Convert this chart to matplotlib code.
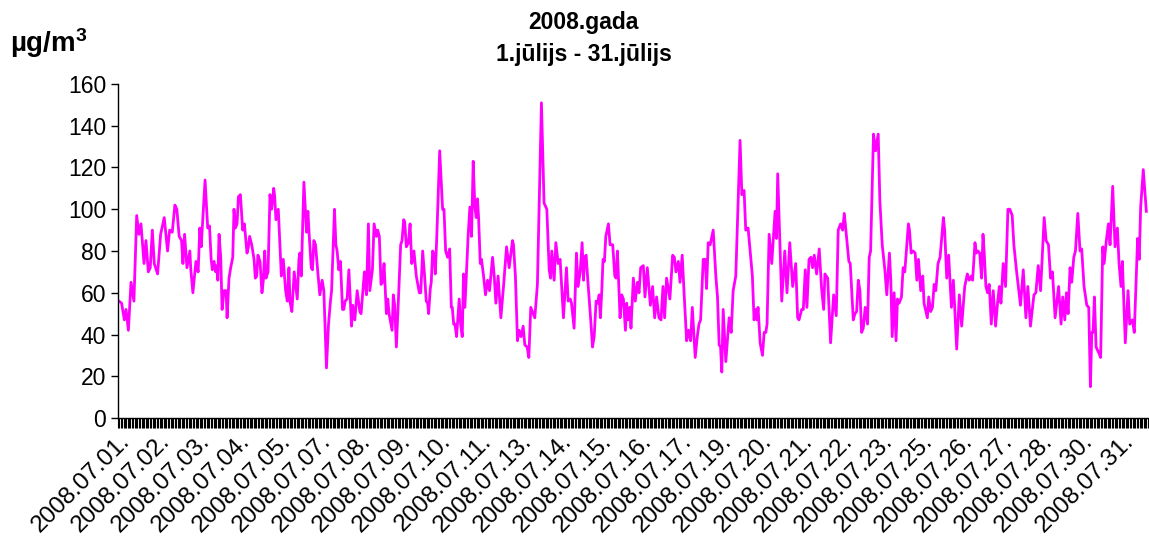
import numpy as np
import matplotlib
matplotlib.use("Agg")
import matplotlib.pyplot as plt

plt.rcParams['font.family'] = ['Liberation Sans', 'DejaVu Sans']
plt.rcParams['mathtext.fontset'] = 'custom'
plt.rcParams['mathtext.rm'] = 'Liberation Sans'
plt.rcParams['mathtext.bf'] = 'Liberation Sans:bold'

# hourly series, July 2008 (744 hours) - read as vertices (hour index, value)
hours = [
    0.2, 2.1, 4.1, 5.3, 7.0, 8.9, 11.0, 13.0, 14.6, 16.1, 18.3, 19.7, 21.4, 22.8, 24.3, 25.7,
    28.1, 30.3, 32.9, 35.3, 36.8, 38.7, 40.6, 42.0, 43.7, 45.4, 46.4, 47.6, 49.3, 51.4, 52.1,
    53.6, 55.8, 57.4, 58.6, 59.6,
    62.4, 64.3, 65.6, 66.8, 67.7, 68.9, 70.1, 71.1, 71.6, 72.5, 73.7, 74.7, 76.1, 77.6, 78.3,
    79.7, 80.9, 82.4, 83.3, 84.3, 85.5, 86.5, 87.9, 89.6, 90.8, 92.7, 93.7, 94.6, 96.1, 97.8,
    98.7, 99.7, 100.6, 102.1, 103.5, 104.5, 105.5, 106.4, 107.9, 109.3, 110.5, 112.0, 112.7,
    113.6, 115.3, 117.5, 118.9, 120.6, 121.8,
    123.0, 123.7, 125.1, 126.8, 129.0, 130.2, 130.9, 131.9, 133.8, 135.7, 136.7, 137.6, 139.1,
    140.0, 141.0, 142.2, 143.7, 145.3, 147.0, 148.2, 150.1, 151.6, 153.0, 153.8, 155.9, 156.9,
    157.8, 159.0, 160.2, 161.7, 162.6, 163.6, 165.0, 166.3, 168.2, 169.1, 170.6, 172.3, 174.2,
    175.1, 177.5, 179.0, 180.4, 181.4,
    183.3, 184.5, 186.2, 187.1, 188.3, 189.5, 190.5, 191.7, 193.4, 194.4, 195.3, 197.5, 198.4,
    199.4, 200.6, 202.3, 203.7, 204.7, 205.9, 206.6, 207.8, 209.3, 210.5, 211.7, 213.3, 215.0,
    217.2, 218.2, 219.6, 221.0, 222.2, 223.2, 223.9, 225.1, 225.8, 226.8, 228.0, 228.7, 229.7,
    231.9, 233.1, 234.0, 235.0, 236.2, 237.6, 239.1, 240.3, 241.0, 242.0, 242.9, 244.1, 246.0,
    247.0, 248.2, 249.1, 250.1, 251.3, 252.5, 253.7, 254.9, 256.1, 257.3, 258.3, 259.2, 260.0,
    261.2, 262.1, 263.6, 265.0, 266.5, 267.9, 270.1, 271.3, 272.5, 274.1, 276.1, 278.0, 280.2,
    282.1, 284.5, 285.2, 286.6, 288.1, 289.3, 290.7, 292.2, 293.4, 295.1, 296.3, 297.7, 300.6,
    302.5, 305.4, 307.3,
    309.3, 311.0, 312.0, 312.9, 314.6, 315.8, 317.5, 318.9, 321.3, 323.5, 324.7, 326.2, 327.1,
    329.0, 330.7, 331.9, 333.4, 334.8, 335.8, 336.7, 337.7, 338.9, 341.0, 342.3, 343.5, 344.9,
    346.1, 347.1, 348.0, 349.0, 349.9, 350.9, 351.9, 353.8, 355.0, 356.9, 358.4, 359.3, 360.3,
    362.2, 363.4, 364.6, 366.1, 367.0, 368.0, 369.2, 370.1,
    371.8, 373.2, 374.7, 375.9, 377.1, 379.0, 380.2, 381.9, 384.1, 385.7, 387.2, 388.6, 390.3,
    391.8, 393.2, 394.4, 395.8, 398.2, 400.2, 401.4, 402.6, 404.3, 405.5, 407.1, 408.6, 410.3,
    411.7, 413.2, 414.4, 416.5, 418.0, 419.2, 420.4, 422.3, 423.7, 424.7, 425.9, 427.3, 429.5,
    431.4,
    432.6, 433.8, 434.8, 435.7, 436.7, 438.6, 441.0, 442.5, 443.9, 445.8, 448.9, 450.2, 451.8,
    453.0, 454.7, 457.8, 459.0, 460.2, 461.0, 461.9, 463.4, 465.1, 466.3, 467.5, 468.4, 469.9,
    471.8, 474.2, 475.2, 476.1, 477.6, 479.0, 481.2, 482.8, 484.8, 486.9, 489.1, 490.5, 491.5,
    493.4,
    494.6, 496.0, 497.2, 498.7, 500.1, 501.3, 502.5, 504.2, 506.1, 507.8, 509.3, 510.2, 512.2,
    514.3, 516.5, 518.4, 519.8, 521.5, 523.0, 524.2, 525.9, 527.5, 528.5, 530.7, 531.9, 533.1,
    534.3, 535.5, 536.7, 537.9, 539.3, 541.0, 542.2, 543.2, 545.3, 546.8, 548.7, 549.9, 551.6,
    553.5, 554.9,
    556.8, 557.8, 558.8, 560.2, 561.6, 562.6, 563.8, 565.5, 566.7, 567.9, 570.5, 571.3, 572.5,
    573.9, 575.4, 576.6, 577.8, 579.4, 580.9, 581.8, 584.2, 585.2, 586.6, 587.9, 589.1, 590.3,
    591.9, 593.4, 595.8, 596.7, 598.2, 599.6, 601.6, 603.0, 605.4, 607.3, 609.0, 611.2, 613.1,
    614.5, 616.0, 616.9,
    618.6, 619.6, 620.8, 622.0, 623.4, 624.4, 625.3, 626.5, 627.7, 628.9, 630.4, 631.8, 633.5,
    634.9, 636.2, 637.4, 639.0, 640.7, 642.4, 643.8, 645.5, 646.7, 648.7, 651.5, 653.5, 655.4,
    656.8, 658.7, 661.2, 662.6, 664.3, 666.0, 668.6, 670.0, 671.7, 673.2, 674.6, 676.5, 679.0,
    680.8, 682.0, 683.5, 684.7, 685.9, 687.3, 688.5, 690.0, 691.2, 692.9, 694.5, 695.7, 697.4,
    699.4, 700.8, 702.0, 703.0, 703.9, 704.9, 706.1, 708.2, 709.4, 710.9, 711.9, 713.5, 715.0,
    716.2, 718.1, 719.8, 721.5, 722.7, 724.1, 725.1, 727.2, 729.2, 730.4, 732.3, 733.7, 736.1,
    737.3, 738.3, 740.2, 742.4,
]
conc = [
    56, 55, 47, 52, 42, 65, 56, 97, 88, 93, 74, 85, 70, 72, 90, 74,
    69, 88, 96, 80, 90, 89, 102, 100, 87, 85, 74, 88, 72, 80, 71,
    60, 75, 70, 91, 82,
    114, 91, 92, 76, 71, 75, 70, 73, 66, 88, 77, 52, 61, 61, 48,
    67, 72, 77, 100, 91, 93, 106, 107, 90, 93, 79, 82, 87, 83, 76,
    67, 68, 78, 75, 60, 66, 80, 67, 70, 107, 100, 110, 106,
    95, 100, 68, 76, 61, 56,
    72, 56, 51, 70, 57, 76, 79, 68, 113, 89, 99, 88, 72,
    71, 85, 83, 71, 59, 66, 61, 24, 45, 56, 61, 100, 83,
    80, 71, 75, 52, 52, 56, 57, 71, 44, 54, 47, 61, 51,
    50, 70, 59, 93, 61,
    71, 93, 87, 90, 87, 64, 65, 74, 50, 57, 50, 42, 59,
    54, 34, 60, 83, 85, 95, 94, 82, 84, 93, 74, 80, 68,
    60, 60, 80, 68, 56, 55, 50, 62, 65, 80, 78, 69, 85,
    128, 112, 100, 100, 80, 77, 81, 53, 53, 45, 45, 39, 57,
    45, 39, 69, 53, 71, 88, 101, 87, 123, 101, 96, 105, 96,
    74, 76, 68, 59, 66, 61, 77, 68, 55, 68, 48, 63, 82,
    72, 85, 83, 68, 37, 42, 39, 44, 35, 34, 29, 53, 48,
    64, 151, 103,
    100, 71, 67, 80, 66, 84, 74, 76, 48, 72, 56, 57, 55,
    43, 79, 63, 70, 84, 66, 77, 78, 66, 47, 34, 39, 56,
    55, 59, 48, 61, 76, 75, 87, 93, 83, 83, 68, 67, 80,
    48, 59, 57, 42, 55, 47, 53, 43,
    67, 56, 65, 60, 72, 73, 58, 72, 54, 63, 48, 58, 48,
    47, 63, 48, 67, 57, 78, 77, 70, 75, 65, 78, 58, 37,
    42, 37, 53, 29, 39, 45, 47, 76, 76, 62, 84, 83, 90,
    68,
    58, 35, 34, 22, 52, 27, 48, 41, 61, 68, 133, 107, 109,
    90, 91, 68, 47, 52, 47, 53, 36, 30, 41, 41, 45, 88,
    74, 99, 86, 117, 86, 56, 80, 60, 84, 63, 74, 48, 47,
    52,
    52, 71, 53, 76, 77, 72, 78, 69, 81, 62, 52, 69, 67,
    36, 59, 49, 90, 93, 90, 98, 86, 75, 74, 47, 50, 51,
    66, 61, 41, 43, 53, 45, 77, 80, 136, 128, 136, 104, 83,
    71, 59,
    79, 66, 39, 60, 37, 57, 55, 58, 72, 70, 93, 90, 79,
    80, 79, 66, 76, 61, 68, 55, 48, 58, 51, 53, 64, 61,
    74, 77, 96, 90, 67, 78, 53, 66, 33, 59, 44, 63, 69,
    66, 68, 66,
    84, 79, 80, 79, 67, 88, 79, 63, 60, 64, 45, 61, 44,
    55, 63, 55, 74, 63, 100, 100, 97, 83, 70, 54, 71, 48,
    63, 44, 59, 60, 73, 61, 96, 85, 83, 67, 70, 48, 63,
    45, 58, 47, 60, 50, 72, 65, 77, 80, 98, 80, 81, 63,
    54, 53, 15, 41, 41, 58, 34, 31, 29, 82, 74, 85, 93,
    83, 111, 82, 91, 74, 63, 75, 36, 61, 45, 47, 41, 86,
    76, 101, 119, 99,
]

n_hours = 744
label_pos = list(range(0, n_hours, 29))
tick_labels = [
    '2008.07.01.', '2008.07.02.', '2008.07.03.', '2008.07.04.', '2008.07.05.',
    '2008.07.07.', '2008.07.08.', '2008.07.09.', '2008.07.10.', '2008.07.11.',
    '2008.07.13.', '2008.07.14.', '2008.07.15.', '2008.07.16.', '2008.07.17.',
    '2008.07.19.', '2008.07.20.', '2008.07.21.', '2008.07.22.', '2008.07.23.',
    '2008.07.25.', '2008.07.26.', '2008.07.27.', '2008.07.28.', '2008.07.30.',
    '2008.07.31.',
]

fig = plt.figure(figsize=(11.49, 5.49), dpi=100)
ax = fig.add_axes([0.1027, 0.2386, 0.8963, 0.6084])

ax.plot(hours, conc, color='#FF00FF', linewidth=2.0)

ax.set_xlim(-0.5, n_hours - 0.5)
ax.set_ylim(0, 160)
ax.set_yticks(np.arange(0, 161, 20))
ax.tick_params(axis='y', labelsize=16.5, length=5, width=1, direction='out')

ax.set_xticks(label_pos)
ax.set_xticklabels(tick_labels, rotation=45, ha='right', rotation_mode='anchor', fontsize=17.5)
ax.set_xticks(np.arange(-0.5, n_hours, 1), minor=True)
ax.tick_params(axis='x', which='major', length=0, pad=9)
ax.tick_params(axis='x', which='minor', length=7, width=0.8, color='black')

for s in ['top', 'right']:
    ax.spines[s].set_visible(False)
ax.spines['left'].set_linewidth(1)
ax.spines['bottom'].set_linewidth(1)

fig.text(0.508, 1 - 22 / 549, '2008.gada', ha='center', va='center',
         fontsize=16.5, fontweight='bold')
fig.text(0.508, 1 - 55 / 549, '1.jūlijs - 31.jūlijs', ha='center', va='center',
         fontsize=16.5, fontweight='bold')
fig.text(10 / 1149, 1 - 43 / 549, r'µg/m$\mathbf{^3}$', ha='left', va='center',
         fontsize=20, fontweight='bold')

fig.savefig('out.png', dpi=100)
